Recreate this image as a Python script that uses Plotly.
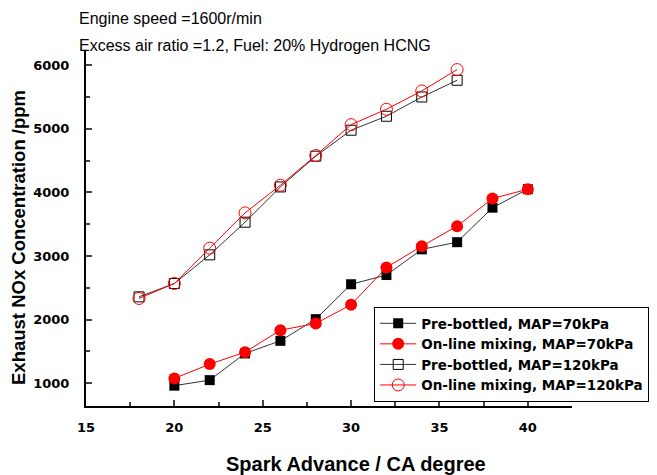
import plotly.graph_objects as go

x_70 = [20, 22, 24, 26, 28, 30, 32, 34, 36, 38, 40]
pre_70 = [960, 1047, 1467, 1665, 2006, 2555, 2700, 3104, 3217, 3760, 4050]
online_70 = [1074, 1299, 1487, 1833, 1938, 2234, 2819, 3154, 3469, 3904, 4050]

x_120 = [18, 20, 22, 24, 26, 28, 30, 32, 34, 36]
pre_120 = [2357, 2567, 3018, 3531, 4086, 4570, 4978, 5198, 5501, 5764]
online_120 = [2332, 2567, 3123, 3678, 4113, 4580, 5066, 5308, 5596, 5932]

names = ["Pre-bottled, MAP=70kPa", "On-line mixing, MAP=70kPa",
         "Pre-bottled, MAP=120kPa", "On-line mixing, MAP=120kPa"]

fig = go.Figure()
fig.add_trace(go.Scatter(x=x_70, y=pre_70, name=names[0], mode="lines+markers",
                         line=dict(color="#333333", width=1),
                         marker=dict(symbol="square", size=10, color="black")))
fig.add_trace(go.Scatter(x=x_70, y=online_70, name=names[1], mode="lines+markers",
                         line=dict(color="red", width=1),
                         marker=dict(symbol="circle", size=12, color="red")))
fig.add_trace(go.Scatter(x=x_120, y=pre_120, name=names[2], mode="lines+markers",
                         line=dict(color="#333333", width=1),
                         marker=dict(symbol="square-open", size=10, color="black", line=dict(width=1))))
fig.add_trace(go.Scatter(x=x_120, y=online_120, name=names[3], mode="lines+markers",
                         line=dict(color="red", width=1),
                         marker=dict(symbol="circle-open", size=12, color="red", line=dict(width=1))))

fig.update_layout(
    width=657, height=475,
    margin=dict(l=78, r=93, t=42, b=77, autoexpand=False),
    paper_bgcolor="white", plot_bgcolor="white",
    font=dict(family="Liberation Sans, Arial, sans-serif", color="black"),
    showlegend=True,
    legend=dict(x=0.593, y=0.278, xanchor="left", yanchor="top",
                bordercolor="black", borderwidth=1, bgcolor="white",
                font=dict(size=13.5, family="DejaVu Sans", weight="bold"),
                tracegroupgap=0, itemwidth=36),
    xaxis=dict(range=[15, 42.5], tickvals=[15, 20, 25, 30, 35, 40],
               ticks="inside", ticklen=6, tickwidth=2, showline=True, linewidth=2, linecolor="black",
               showgrid=False, zeroline=False, ticklabelstandoff=8,
               minor=dict(ticks="inside", ticklen=4, tickwidth=1.5, dtick=2.5, showgrid=False),
               tickfont=dict(size=13, family="DejaVu Sans", weight="bold")),
    yaxis=dict(range=[640, 6240], tickvals=[1000, 2000, 3000, 4000, 5000, 6000],
               ticks="inside", ticklen=6, tickwidth=2, showline=True, linewidth=2, linecolor="black",
               showgrid=False, zeroline=False, ticklabelstandoff=12,
               minor=dict(ticks="inside", ticklen=4, tickwidth=1.5, dtick=500, showgrid=False),
               tickfont=dict(size=13, family="DejaVu Sans", weight="bold")),
    annotations=[
        dict(text="Engine speed =1600r/min", xref="paper", yref="paper", x=-0.0185, y=1.0, yshift=32,
             xanchor="left", yanchor="middle", showarrow=False, font=dict(size=16)),
        dict(text="Excess air ratio =1.2, Fuel: 20% Hydrogen HCNG", xref="paper", yref="paper",
             x=-0.0185, y=1.0, yshift=5, xanchor="left", yanchor="middle", showarrow=False, font=dict(size=16)),
        dict(text="Spark Advance / CA degree", xref="paper", yref="paper", x=0.556, y=0, yshift=-58,
             xanchor="center", yanchor="middle", showarrow=False, font=dict(size=20, weight="bold")),
        dict(text="Exhaust NOx Concentration /ppm", xref="paper", yref="paper", x=0, xshift=-67,
             y=0.472, xanchor="center", yanchor="middle", textangle=-90, showarrow=False,
             font=dict(size=18.5, weight="bold")),
    ],
)

fig.write_html("out.html")
